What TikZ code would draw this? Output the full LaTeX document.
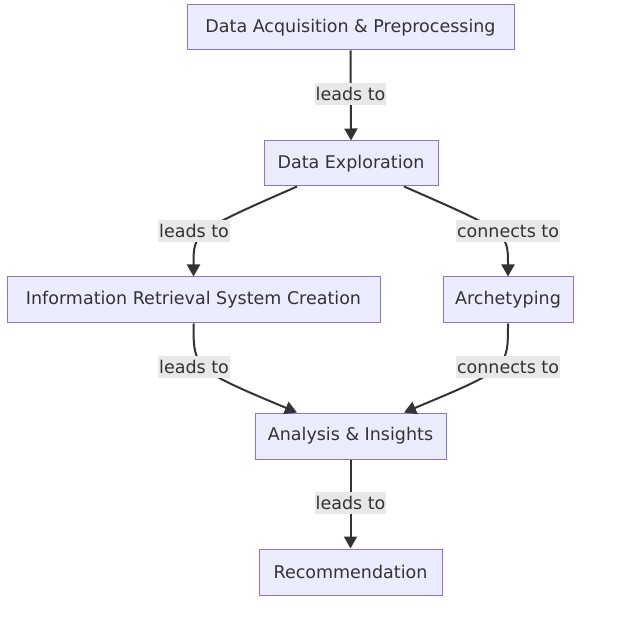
\documentclass[tikz,border=0pt]{standalone}
\usepackage{fontspec}
\setmainfont{DejaVu Sans}
\usetikzlibrary{arrows.meta}
\definecolor{boxfill}{HTML}{ECECFF}
\definecolor{boxline}{HTML}{9370DB}
\definecolor{ink}{HTML}{333333}
\definecolor{lblbg}{HTML}{E8E8E8}
\tikzset{
  box/.style={draw=boxline, fill=boxfill, line width=1pt, inner sep=0pt, text=ink, font=\fontsize{17.5}{20}\selectfont},
  lbl/.style={fill=lblbg, inner sep=1pt, text=ink, font=\fontsize{17.5}{20}\selectfont, minimum height=22pt},
  edge/.style={draw=ink, line width=2pt, -{Triangle[length=12pt,width=13pt]}}
}
\begin{document}
\begin{tikzpicture}[x=1pt,y=-1pt]
\useasboundingbox (0,0) rectangle (642,617);
\node[box, minimum width=327pt, minimum height=45pt] (A) at (350.5,27.5) {Data Acquisition \& Preprocessing};
\node[box, minimum width=174pt, minimum height=45pt] (B) at (351,163.5) {Data Exploration};
\node[box, minimum width=373pt, minimum height=46pt] (C) at (193.5,300) {Information Retrieval System Creation};
\node[box, minimum width=130pt, minimum height=46pt] (D) at (508,300) {Archetyping};
\node[box, minimum width=191pt, minimum height=46pt] (E) at (350.5,436) {Analysis \& Insights};
\node[box, minimum width=183pt, minimum height=46pt] (F) at (350.5,572) {Recommendation};

\draw[edge] (A.south) -- (B.north);
\draw[edge] ([xshift=-54pt]B.south) .. controls (193.5,232) .. (C.north);
\draw[edge] ([xshift=53pt]B.south) .. controls (508,232) .. (D.north);
\draw[edge] (C.south) .. controls (193.5,369) .. ([xshift=-53.5pt]E.north);
\draw[edge] (D.south) .. controls (508,369) .. ([xshift=53.5pt]E.north);
\draw[edge] (E.south) -- (F.north);

\node[lbl] (l1) at (350.5,94) {leads to};
\node[lbl] (l2) at (194,231) {leads to};
\node[lbl] (l3) at (508,231) {connects to};
\node[lbl] (l4) at (194,367) {leads to};
\node[lbl] (l5) at (508,367) {connects to};
\node[lbl] (l6) at (350.5,503) {leads to};
\end{tikzpicture}
\end{document}
